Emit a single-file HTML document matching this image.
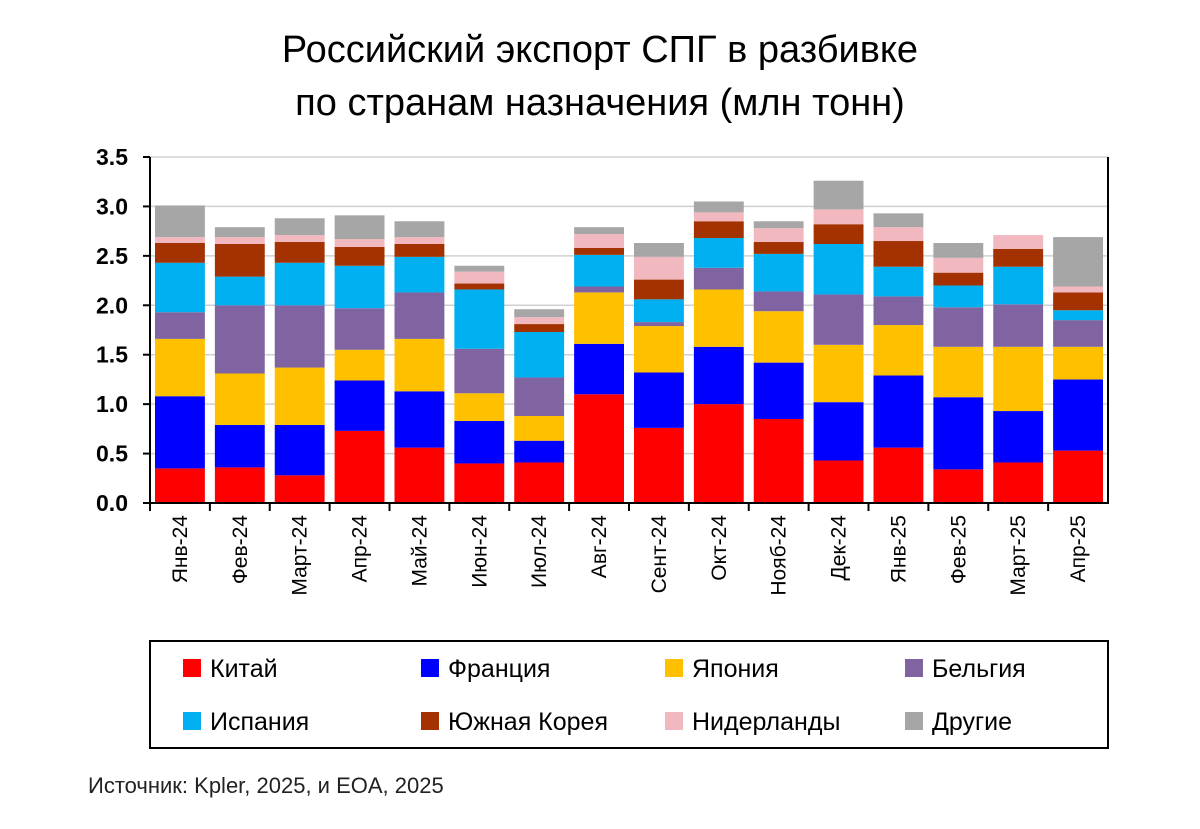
<!DOCTYPE html>
<html><head><meta charset="utf-8"><style>
body{margin:0;background:#fff;width:1200px;height:824px;overflow:hidden;font-family:"Liberation Sans Narrow","Liberation Sans",sans-serif;}
</style></head><body>
<svg id="c" width="1200" height="824" xmlns="http://www.w3.org/2000/svg">
<text x="600" y="62" text-anchor="middle" font-size="38" font-family="Liberation Sans Narrow, Liberation Sans, sans-serif">Российский экспорт СПГ в разбивке</text>
<text x="600" y="115" text-anchor="middle" font-size="38" font-family="Liberation Sans Narrow, Liberation Sans, sans-serif">по странам назначения (млн тонн)</text>
<g id="plot"></g>
<rect x="150" y="641" width="958" height="107" fill="none" stroke="#000" stroke-width="2"/>
<g id="legend"></g>
<text x="88" y="793" font-size="22" fill="#222">Источник: Kpler, 2025, и EOA, 2025</text>
</svg>
<script>
const categories=["Янв-24","Фев-24","Март-24","Апр-24","Май-24","Июн-24","Июл-24","Авг-24","Сент-24","Окт-24","Нояб-24","Дек-24","Янв-25","Фев-25","Март-25","Апр-25"];
const seriesNames=["Китай","Франция","Япония","Бельгия","Испания","Южная Корея","Нидерланды","Другие"];
const china=[.35,.36,.28,.73,.56,.40,.41,1.10,.76,1.00,.85,.43,.56,.34,.41,.53];
const france=[.73,.43,.51,.51,.57,.43,.22,.51,.56,.58,.57,.59,.73,.73,.52,.72];
const japan=[.58,.52,.58,.31,.53,.28,.25,.52,.47,.58,.52,.58,.51,.51,.65,.33];
const belgium=[.27,.69,.63,.42,.47,.45,.39,.06,.04,.22,.20,.51,.29,.40,.43,.27];
const spain=[.50,.29,.43,.43,.36,.60,.46,.32,.23,.30,.38,.51,.30,.22,.38,.10];
const korea=[.20,.33,.21,.19,.13,.06,.08,.07,.20,.17,.12,.20,.26,.13,.18,.18];
const netherlands=[.06,.07,.07,.08,.07,.12,.07,.14,.23,.09,.14,.15,.14,.15,.14,.06];
const others=[.32,.10,.17,.24,.16,.06,.08,.07,.14,.11,.07,.29,.14,.15,.00,.50];
const yTicks=["0.0","0.5","1.0","1.5","2.0","2.5","3.0","3.5"];
const series=[china,france,japan,belgium,spain,korea,netherlands,others];
const colors=["#ff0000","#0000ff","#ffc000","#8064a2","#00b0f0","#a33200","#f2b8bf","#a6a6a6"];
const keys=["china","france","japan","belgium","spain","south-korea","netherlands","others"];
const NS="http://www.w3.org/2000/svg";
const L=150,R=1108,T=157,B=503,yMax=3.5;
const y=v=>B-(v/yMax)*(B-T);
const slot=(R-L)/categories.length;
const x=i=>L+i*slot;
const plot=document.getElementById('plot');
function mk(tag,a,parent){const e=document.createElementNS(NS,tag);for(const k in a)e.setAttribute(k,a[k]);(parent||plot).appendChild(e);return e;}
yTicks.forEach(t=>{const v=parseFloat(t);
 if(v>0){const g=mk('line',{x1:L,x2:R,y1:y(v),y2:y(v),stroke:'#d0d0d0','stroke-width':1.5});
 
 }
 const tx=mk('text',{x:128,y:y(v)+8,'text-anchor':'end','font-size':23,'font-weight':'bold','font-family':'Liberation Sans, sans-serif'});tx.textContent=t;
 
 
 const tk=mk('line',{x1:L-7,x2:L,y1:y(v),y2:y(v),stroke:'#000','stroke-width':2});
 
 
});
categories.forEach((c,i)=>{let cum=0;
 series.forEach((s,j)=>{const v=s[i];if(v>0){const r=mk('rect',{x:x(i)+5,y:y(cum+v),width:slot-10,height:y(cum)-y(cum+v),fill:colors[j]});
 
 }cum+=v;});
 const tk=mk('line',{x1:x(i),x2:x(i),y1:B,y2:B+8,stroke:'#000','stroke-width':2});
 
 
 const cx=x(i)+slot/2;
 const t=mk('text',{x:0,y:0,transform:`translate(${cx+7},515) rotate(-90)`,'text-anchor':'end','font-size':21});t.textContent=c;
 
 
});
const ax=mk('path',{d:`M${L},${T} V${B} H${R} V${T}`,fill:'none',stroke:'#000','stroke-width':2});


const lg=document.getElementById('legend');
const lx=[183,421,665,905],ly=[668,721];
seriesNames.forEach((n,j)=>{const px=lx[j%4],py=ly[Math.floor(j/4)];
 const g=mk('g',{},lg);
 
 
 mk('rect',{x:px,y:py-9,width:18,height:18,fill:colors[j]},g);
 const t=mk('text',{x:px+27,y:py+9,'font-size':25},g);t.textContent=n;
});
</script>
</body></html>
